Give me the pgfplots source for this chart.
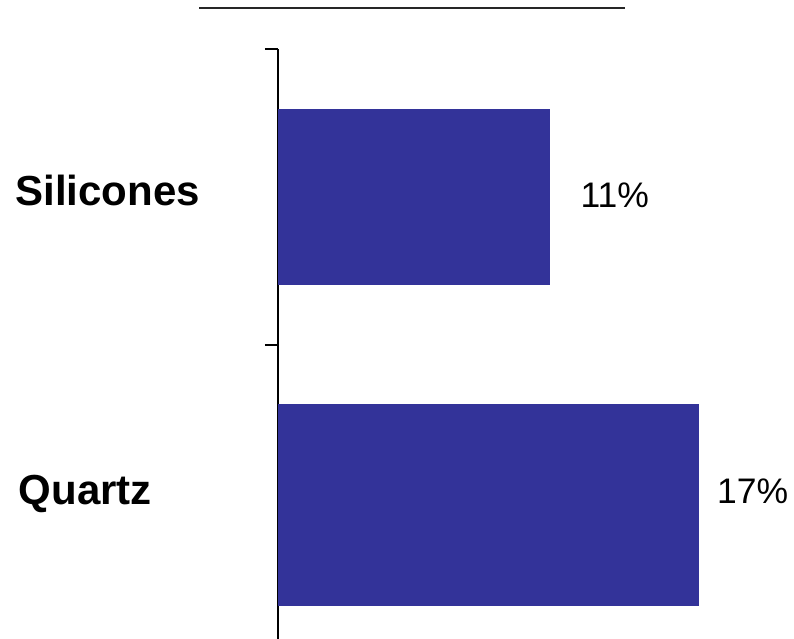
\documentclass[border=0pt]{standalone}
\usepackage{pgfplots}
\pgfplotsset{compat=1.18}
\usepackage{fontspec}
\setmainfont{Liberation Sans}
\definecolor{barblue}{HTML}{333399}
\begin{document}
\begin{tikzpicture}
\begin{axis}[
  scale only axis,
  width=495pt, height=592pt,
  xmin=0, xmax=20,
  ymin=-0.5, ymax=1.5,
  enlargelimits=false,
  clip=false,
  axis x line=none,
  axis y line=left,
  axis line style={-, line width=1.5pt, black},
  ytick={-0.5,0.5,1.5},
  yticklabels={},
  tick align=outside,
  major tick length=13pt,
  tick style={line width=1.5pt, black},
  xbar, bar shift=0pt,
]
\addplot[fill=barblue, draw=none, bar width=176pt] coordinates {(11,1)};
\addplot[fill=barblue, draw=none, bar width=202pt] coordinates {(17,-0.04)};
\node[anchor=base west, inner sep=0pt, font=\fontsize{35.5}{40}\selectfont] at (axis cs:12.22,0.966) {11\%};
\node[anchor=base west, inner sep=0pt, font=\fontsize{35.5}{40}\selectfont] at (axis cs:17.74,-0.034) {17\%};
\node[anchor=base east, inner sep=0pt, font=\fontsize{42}{48}\selectfont\bfseries] at (axis cs:-3.15,0.970) {Silicones};
\node[anchor=base east, inner sep=0pt, font=\fontsize{42}{48}\selectfont\bfseries] at (axis cs:-5.09,-0.0405) {Quartz};
\draw[line width=2pt, black!85] (axis cs:-3.19,1.6385) -- (axis cs:14.02,1.6385);
\coordinate (bl) at (axis cs:-11.232,-0.4932);
\coordinate (tr) at (axis cs:20.85,1.6655);
\end{axis}
\pgfresetboundingbox
\useasboundingbox (bl) rectangle (tr);
\end{tikzpicture}
\end{document}
